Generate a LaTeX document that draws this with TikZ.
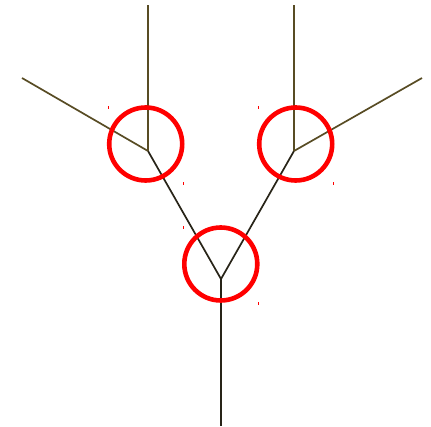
\documentclass[tikz,border=0pt]{standalone}
\usepackage{tikz}
\definecolor{twig}{RGB}{88,76,36}
\definecolor{bough}{RGB}{40,36,24}

\begin{document}
\begin{tikzpicture}[x=1pt, y=-1pt,
    limb/.style={line width=1.7pt, draw=bough},
    shoot/.style={line width=1.7pt, draw=twig},
    ring/.style={circle, draw=red, line width=4.6pt, minimum size=73pt, inner sep=0pt},
    speck/.style={draw=red, line width=0.9pt}]
  \useasboundingbox (0,0) rectangle (431,427);
  % junctions of the tree
  \coordinate (root)  at (221,426);
  \coordinate (fork)  at (221,279);
  \coordinate (lfork) at (148,151);
  \coordinate (rfork) at (294,151);
  \coordinate (ltop)  at (148,5);
  \coordinate (lside) at (22,78);
  \coordinate (rtop)  at (294,5);
  \coordinate (rside) at (422,78);
  % trunk and branches
  \draw[limb] (root) -- (fork);
  \draw[limb] (fork) -- (lfork);
  \draw[limb] (fork) -- (rfork);
  \draw[shoot] (lfork) -- (ltop);
  \draw[shoot] (lfork) -- (lside);
  \draw[shoot] (rfork) -- (rtop);
  \draw[shoot] (rfork) -- (rside);
  % red rings round the forks
  \node[ring] (lring) at (145.7,144) {};
  \node[ring] (rring) at (295.7,144) {};
  \node[ring] (bring) at (220.8,264) {};
  % small red marks at the ring corners
  \foreach \px/\py in {108/108, 183/184, 258/108, 333/184, 183/228, 258/304}
    \draw[speck] (\px,\py-1.5) -- (\px,\py+1.5);
\end{tikzpicture}
\end{document}
